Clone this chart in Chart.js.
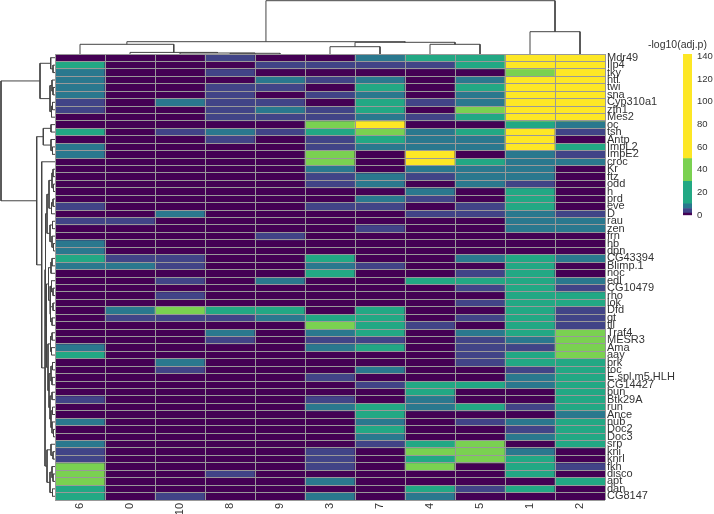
<!DOCTYPE html>
<html><head><meta charset="utf-8">
<script src="https://cdn.jsdelivr.net/npm/chart.js@4.4.1/dist/chart.umd.min.js"></script>
<style>
html,body{margin:0;padding:0;background:#fff;}
#wrap{position:relative;width:714px;height:514px;overflow:hidden;background:#fff;}
canvas{position:absolute;}
</style></head><body>
<div id="wrap">
<canvas id="heat" width="714" height="514" style="left:0;top:0;width:714px;height:514px"></canvas>
<canvas id="dtop" width="550" height="54" style="left:55px;top:0;width:550px;height:54px"></canvas>
<canvas id="dleft" width="55" height="446" style="left:0;top:54px;width:55px;height:446px"></canvas>
<canvas id="cbar" width="66" height="190" style="left:648px;top:36px;width:66px;height:190px"></canvas>
</div>
<script>
// ---- data ----
const colNames = ['6','0','10','8','9','3','7','4','5','1','2'];
const rowNames = ['Mdr49','Ilp4','tky','htl','twi','sna','Cyp310a1','zfh1','Mes2','oc',
 'tsh','Antp','ImpL2','ImpE2','croc','Kr','ftz','odd','h','prd',
 'eve','D','rau','zen','frn','hb','dpn','CG43394','Blimp.1','noc',
 'edl','CG10479','rho','lok','Dfd','gt','tll','Traf4','MESR3','Ama',
 'aay','brk','toc','E.spl.m5.HLH','CG14427','bun','Btk29A','run','Ance','nub',
 'Doc2','Doc3','srp','kni','knrl','fkh','disco','apt','dan','CG8147'];
// -log10(adj.p) per row, columns in colNames order
const values = [
 [1,1,1,4,1,1,8,20,20,100,100],
 [20,1,1,1,4,4,4,4,20,100,100],
 [8,1,1,4,1,1,1,1,1,40,100],
 [8,1,1,1,8,4,8,1,8,100,100],
 [8,1,1,4,4,1,20,1,20,100,100],
 [8,1,1,4,1,4,8,1,8,100,100],
 [4,1,8,4,4,1,20,4,8,100,100],
 [4,1,1,4,8,4,20,1,40,100,100],
 [1,1,1,4,4,4,8,4,20,100,100],
 [1,1,1,1,1,40,100,1,1,20,8],
 [20,1,4,8,4,20,40,8,20,100,4],
 [1,1,1,4,1,4,20,8,8,100,1],
 [8,1,1,1,1,4,8,8,8,100,20],
 [8,1,1,1,1,40,1,100,1,8,4],
 [1,1,1,1,1,40,1,100,20,8,8],
 [1,1,1,1,1,8,1,8,8,8,1],
 [1,1,1,1,1,4,8,4,8,8,1],
 [1,1,1,1,1,4,8,1,8,4,1],
 [1,1,1,1,1,1,1,8,1,20,1],
 [1,1,1,1,1,1,8,4,1,20,1],
 [4,1,1,1,1,4,4,1,4,20,1],
 [1,1,8,1,1,1,1,4,4,8,4],
 [4,4,1,1,1,1,1,1,1,8,8],
 [1,1,1,1,1,1,4,1,1,8,8],
 [1,1,1,1,4,1,1,1,1,1,1],
 [8,1,1,1,1,1,1,1,1,1,1],
 [8,1,1,1,1,1,1,1,1,1,1],
 [20,4,4,1,1,20,1,1,8,20,8],
 [8,8,4,1,1,8,4,1,1,20,1],
 [1,1,1,1,1,20,1,1,4,20,1],
 [1,1,4,1,8,1,1,20,20,20,8],
 [1,1,1,1,1,1,1,1,4,20,4],
 [1,1,4,1,1,1,1,1,1,20,20],
 [1,1,1,1,1,1,1,1,4,20,20],
 [1,8,40,20,20,1,20,1,1,20,4],
 [1,4,4,4,8,20,20,1,4,20,4],
 [1,1,1,1,1,40,20,4,1,20,4],
 [1,1,1,8,1,8,20,1,8,20,40],
 [1,1,1,4,1,4,4,1,4,8,40],
 [8,1,1,1,1,8,20,1,4,4,40],
 [20,1,1,1,1,1,1,1,4,20,40],
 [1,1,8,1,1,1,1,1,4,20,20],
 [1,1,4,1,1,1,8,1,1,4,20],
 [1,1,1,1,1,4,1,1,1,8,20],
 [1,1,1,1,1,1,4,20,20,8,20],
 [1,1,1,1,1,1,1,20,1,1,20],
 [4,1,1,1,1,4,1,8,1,1,20],
 [1,1,1,1,1,8,20,8,20,4,20],
 [1,1,1,1,1,1,20,1,1,1,8],
 [8,1,1,1,1,1,8,1,4,8,20],
 [1,1,1,1,1,1,20,1,1,4,20],
 [1,1,1,1,1,1,8,1,1,8,20],
 [8,1,1,1,1,1,4,20,40,1,20],
 [4,1,1,1,1,4,1,40,40,8,1],
 [4,1,1,1,1,4,1,20,40,20,1],
 [40,1,1,1,1,4,1,40,1,20,4],
 [40,1,1,4,1,1,1,1,1,20,1],
 [40,1,1,1,1,8,1,1,1,1,20],
 [20,1,1,1,1,1,1,20,4,20,1],
 [20,1,4,1,1,8,1,8,1,1,1]
];
const colorBreaks = [0, 2, 6, 10, 30, 50];
const colorMax = 142;
const palette = ['#440154','#414487','#2A788E','#22A884','#7AD151','#FDE725'];
const legendTicks = [0, 20, 40, 60, 80, 100, 120, 140];
const legendTitle = '-log10(adj.p)';
// dendrograms: [mergeHeight, left, right]; leaves are indices
const colTree = [53.3, [12.3, [9.7, 0, [1.6, 1, [1.0, 2, [0.7, 3, 4]]]], [11.7, [7.3, 5, 6], [9.7, 7, 8]]], [22.3, 9, 10]];
const rowA  = [15, [4.3, 0, [2, 1, 2]], [5, [3, 3, [2, 4, 5]], [3.5, [2.5, 6, 7], 8]]];
const rowB1 = [11.7, [4, 9, 10], [4, 11, [2.5, 12, 13]]];
const rowG1 = [6, [3, [2, 15, 16], [1.5, 17, 18]], [3.5, [2, 19, 20], 21]];
const rowG2 = [5, [2.5, 22, 23], [3, 24, [1.5, 25, 26]]];
const rowG3 = [6.5, [4, [3, 27, 28], 29], [5, [3.5, 30, [2, 31, 32]], [4.5, [2, 33, 34], [3, 35, 36]]]];
const rowG4 = [7, [4.5, [3, 37, 38], [3.5, 39, 40]], [6, [4, [2.5, 41, 42], [3, 43, 44]], [5, [3, 45, 46], [4, [2.5, 47, 48], [3, 49, [1.5, 50, 51]]]]]];
const rowG5 = [8, [4, 52, [2, 53, 54]], [5, [3, 55, [2, 56, 57]], [2.5, 58, 59]]];
const rowTree = [54, rowA, [18.3, rowB1, [13.3, 14, [10, [9.5, [8, rowG1, rowG2], [8.5, rowG3, rowG4]], rowG5]]]];

// ---- helpers ----
const LABEL_FONT = {family: "'Liberation Sans', Arial, sans-serif", size: 11};
const TXT = '#333';
function cellColor(v) {
  let k = 0;
  for (let i = 0; i < colorBreaks.length; i++) if (v >= colorBreaks[i]) k = i;
  return palette[k];
}
function dendroPoints(tree, leafOffset, vertical) {
  const pts = [];
  const mk = (p, h) => vertical ? {x: h, y: p} : {x: p, y: h};
  function walk(node) {
    if (typeof node === 'number') return {p: node + leafOffset, h: 0};
    const L = walk(node[1]), R = walk(node[2]);
    const h = node[0];
    pts.push(mk(L.p, L.h), mk(L.p, h), mk(R.p, h), mk(R.p, R.h), {x: null, y: null});
    return {p: (L.p + R.p) / 2, h: h};
  }
  walk(tree);
  return pts;
}
const baseOpts = {responsive: false, animation: false, devicePixelRatio: 1,
  plugins: {legend: {display: false}, tooltip: {enabled: false}}};

// ---- heatmap ----
new Chart(document.getElementById('heat'), {
  type: 'bar',
  data: {
    labels: colNames,
    datasets: rowNames.map((name, r) => ({
      label: name,
      data: values[r].map(() => 1),
      backgroundColor: values[r].map(cellColor),
      borderWidth: 0,
      barPercentage: 1, categoryPercentage: 1,
      xAxisID: 'x', yAxisID: 'y'
    }))
  },
  options: Object.assign({}, baseOpts, {
    layout: {padding: {left: 55, top: 54, right: 0, bottom: 0}},
    scales: {
      x: {type: 'category', stacked: true, position: 'bottom', offset: true,
          grid: {offset: true, color: '#999', lineWidth: 1, drawTicks: false, z: 1},
          border: {display: false},
          ticks: {minRotation: 90, maxRotation: 90, autoSkip: false, padding: 3, color: TXT, font: LABEL_FONT},
          afterFit: s => { s.height = 14; }},
      y: {type: 'linear', stacked: true, reverse: true, min: 0, max: rowNames.length, position: 'left',
          ticks: {display: false, stepSize: 1, autoSkip: false},
          grid: {color: '#999', lineWidth: 1, drawTicks: false, z: 1},
          border: {display: false},
          afterFit: s => { s.width = 0; }},
      yl: {type: 'category', axis: 'y', labels: rowNames, position: 'right', offset: true,
          grid: {display: false, drawTicks: false}, border: {display: false},
          ticks: {autoSkip: false, padding: 2, color: TXT, font: LABEL_FONT},
          afterFit: s => { s.width = 109; }}
    }
  })
});

// ---- dendrograms ----
const lineDs = pts => ({data: pts, showLine: true, borderColor: '#444', borderWidth: 1,
  pointRadius: 0, tension: 0, spanGaps: false});
new Chart(document.getElementById('dtop'), {
  type: 'scatter',
  data: {datasets: [lineDs(dendroPoints(colTree, 0, false))]},
  options: Object.assign({}, baseOpts, {
    layout: {padding: 0},
    scales: {
      x: {type: 'linear', display: false, min: -0.5, max: colNames.length - 0.5},
      y: {type: 'linear', display: false, min: 0, max: 54}
    }
  })
});
new Chart(document.getElementById('dleft'), {
  type: 'scatter',
  data: {datasets: [lineDs(dendroPoints(rowTree, 0.5, true))]},
  options: Object.assign({}, baseOpts, {
    layout: {padding: 0},
    scales: {
      x: {type: 'linear', display: false, reverse: true, min: 0, max: 55},
      y: {type: 'linear', display: false, reverse: true, min: 0, max: rowNames.length}
    }
  })
});

// ---- colour key ----
new Chart(document.getElementById('cbar'), {
  type: 'bar',
  data: {
    labels: [''],
    datasets: palette.map((c, i) => ({
      data: [[colorBreaks[i], i + 1 < colorBreaks.length ? colorBreaks[i + 1] : colorMax]],
      backgroundColor: c, borderWidth: 0, barPercentage: 1, categoryPercentage: 1,
      grouped: false, yAxisID: 'y'
    }))
  },
  options: Object.assign({}, baseOpts, {
    layout: {padding: {top: 0, left: 0, right: 0, bottom: 8}},
    plugins: {legend: {display: false}, tooltip: {enabled: false},
      title: {display: true, text: legendTitle, align: 'start', color: TXT,
              font: {family: "'Liberation Sans', Arial, sans-serif", size: 10.5, weight: 'normal', lineHeight: 1.2},
              padding: {top: 2.7, bottom: 2.7}}},
    scales: {
      x: {display: false, offset: true},
      y: {type: 'linear', position: 'right', min: 0, max: colorMax,
          afterBuildTicks: s => { s.ticks = legendTicks.map(v => ({value: v})); },
          ticks: {padding: 5, color: TXT, font: {family: "'Liberation Sans', Arial, sans-serif", size: 9.5}},
          grid: {display: false, drawTicks: false}, border: {display: false},
          afterFit: s => { s.width = 22; }},
      pad: {type: 'linear', axis: 'y', position: 'left', display: true,
          ticks: {display: false}, grid: {display: false, drawTicks: false}, border: {display: false},
          afterFit: s => { s.width = 35; }}
    }
  })
});
</script>
</body></html>
